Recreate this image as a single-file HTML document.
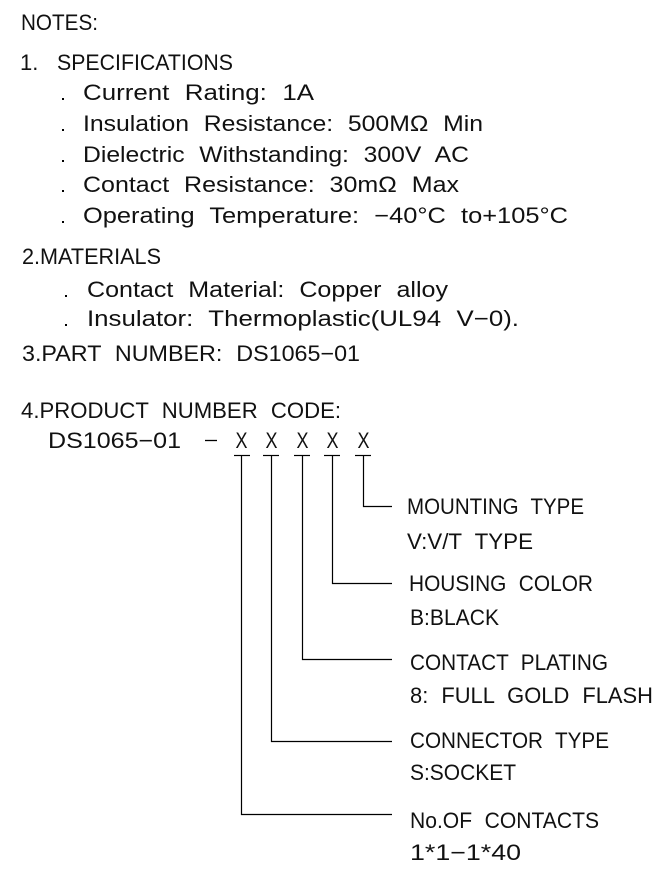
<!DOCTYPE html>
<html>
<head>
<meta charset="utf-8">
<style>
  html,body{margin:0;padding:0;background:#fff;}
  svg{display:block;}
  text{font-family:"Liberation Sans",sans-serif;font-size:22px;fill:#111;word-spacing:7px;}
</style>
</head>
<body>
<svg width="671" height="884" viewBox="0 0 671 884" xmlns="http://www.w3.org/2000/svg">
  <rect x="0" y="0" width="671" height="884" fill="#fff"/>

  <!-- Section 1 -->
  <text x="21" y="30" textLength="77" lengthAdjust="spacingAndGlyphs">NOTES:</text>
  <text x="20" y="70">1.</text>
  <text x="57" y="70" textLength="176" lengthAdjust="spacingAndGlyphs">SPECIFICATIONS</text>

  <rect x="62" y="98" width="2" height="2" fill="#000"/>
  <text x="83" y="100" textLength="231" lengthAdjust="spacingAndGlyphs">Current Rating: 1A</text>
  <rect x="62" y="129" width="2" height="2" fill="#000"/>
  <text x="83" y="131" textLength="400" lengthAdjust="spacingAndGlyphs">Insulation Resistance: 500MΩ Min</text>
  <rect x="62" y="160" width="2" height="2" fill="#000"/>
  <text x="83" y="162" textLength="386" lengthAdjust="spacingAndGlyphs">Dielectric Withstanding: 300V AC</text>
  <rect x="62" y="190" width="2" height="2" fill="#000"/>
  <text x="83" y="192" textLength="376" lengthAdjust="spacingAndGlyphs">Contact Resistance: 30mΩ Max</text>
  <rect x="62" y="221" width="2" height="2" fill="#000"/>
  <text x="83" y="223" textLength="485" lengthAdjust="spacingAndGlyphs">Operating Temperature: −40°C to+105°C</text>

  <!-- Section 2 -->
  <text x="22" y="264" textLength="139" lengthAdjust="spacingAndGlyphs">2.MATERIALS</text>
  <rect x="65" y="295" width="2" height="2" fill="#000"/>
  <text x="87" y="297" textLength="361" lengthAdjust="spacingAndGlyphs">Contact Material: Copper alloy</text>
  <rect x="65" y="324" width="2" height="2" fill="#000"/>
  <text x="87" y="326" textLength="432" lengthAdjust="spacingAndGlyphs">Insulator: Thermoplastic(UL94 V−0).</text>

  <!-- Section 3 -->
  <text x="22" y="361" textLength="338" lengthAdjust="spacingAndGlyphs">3.PART NUMBER: DS1065−01</text>

  <!-- Section 4 -->
  <text x="21" y="418" textLength="320" lengthAdjust="spacingAndGlyphs">4.PRODUCT NUMBER CODE:</text>
  <text x="48" y="448" textLength="133" lengthAdjust="spacingAndGlyphs">DS1065−01</text>
  <line x1="205" y1="440.5" x2="217" y2="440.5" stroke="#000" stroke-width="1.3"/>

  <text x="235.5" y="448" textLength="12" lengthAdjust="spacingAndGlyphs">X</text>
  <text x="265.5" y="448" textLength="12" lengthAdjust="spacingAndGlyphs">X</text>
  <text x="296.5" y="448" textLength="12" lengthAdjust="spacingAndGlyphs">X</text>
  <text x="326.5" y="448" textLength="12" lengthAdjust="spacingAndGlyphs">X</text>
  <text x="357.5" y="448" textLength="12" lengthAdjust="spacingAndGlyphs">X</text>

  <g stroke="#000" stroke-width="1.2" fill="none">
    <line x1="234" y1="455.5" x2="250" y2="455.5"/>
    <line x1="263" y1="455.5" x2="279" y2="455.5"/>
    <line x1="294" y1="455.5" x2="310" y2="455.5"/>
    <line x1="324" y1="455.5" x2="340" y2="455.5"/>
    <line x1="355" y1="455.5" x2="371" y2="455.5"/>
    <polyline points="241.5,455.5 241.5,814.5 392,814.5"/>
    <polyline points="271.5,455.5 271.5,741.5 392,741.5"/>
    <polyline points="302.5,455.5 302.5,659.5 392,659.5"/>
    <polyline points="332.5,455.5 332.5,583.5 392,583.5"/>
    <polyline points="363.5,455.5 363.5,506.5 392,506.5"/>
  </g>

  <!-- Right labels -->
  <text x="407" y="514" textLength="177" lengthAdjust="spacingAndGlyphs">MOUNTING TYPE</text>
  <text x="407" y="549" textLength="126" lengthAdjust="spacingAndGlyphs">V:V/T TYPE</text>
  <text x="409" y="591" textLength="184" lengthAdjust="spacingAndGlyphs">HOUSING COLOR</text>
  <text x="410" y="625" textLength="89" lengthAdjust="spacingAndGlyphs">B:BLACK</text>
  <text x="410" y="670" textLength="198" lengthAdjust="spacingAndGlyphs">CONTACT PLATING</text>
  <text x="410" y="703" textLength="243" lengthAdjust="spacingAndGlyphs">8: FULL GOLD FLASH</text>
  <text x="410" y="748" textLength="199" lengthAdjust="spacingAndGlyphs">CONNECTOR TYPE</text>
  <text x="410" y="780" textLength="106" lengthAdjust="spacingAndGlyphs">S:SOCKET</text>
  <text x="410" y="828" textLength="189" lengthAdjust="spacingAndGlyphs">No.OF CONTACTS</text>
  <text x="410" y="860" textLength="111" lengthAdjust="spacingAndGlyphs">1*1−1*40</text>
</svg>
</body>
</html>
